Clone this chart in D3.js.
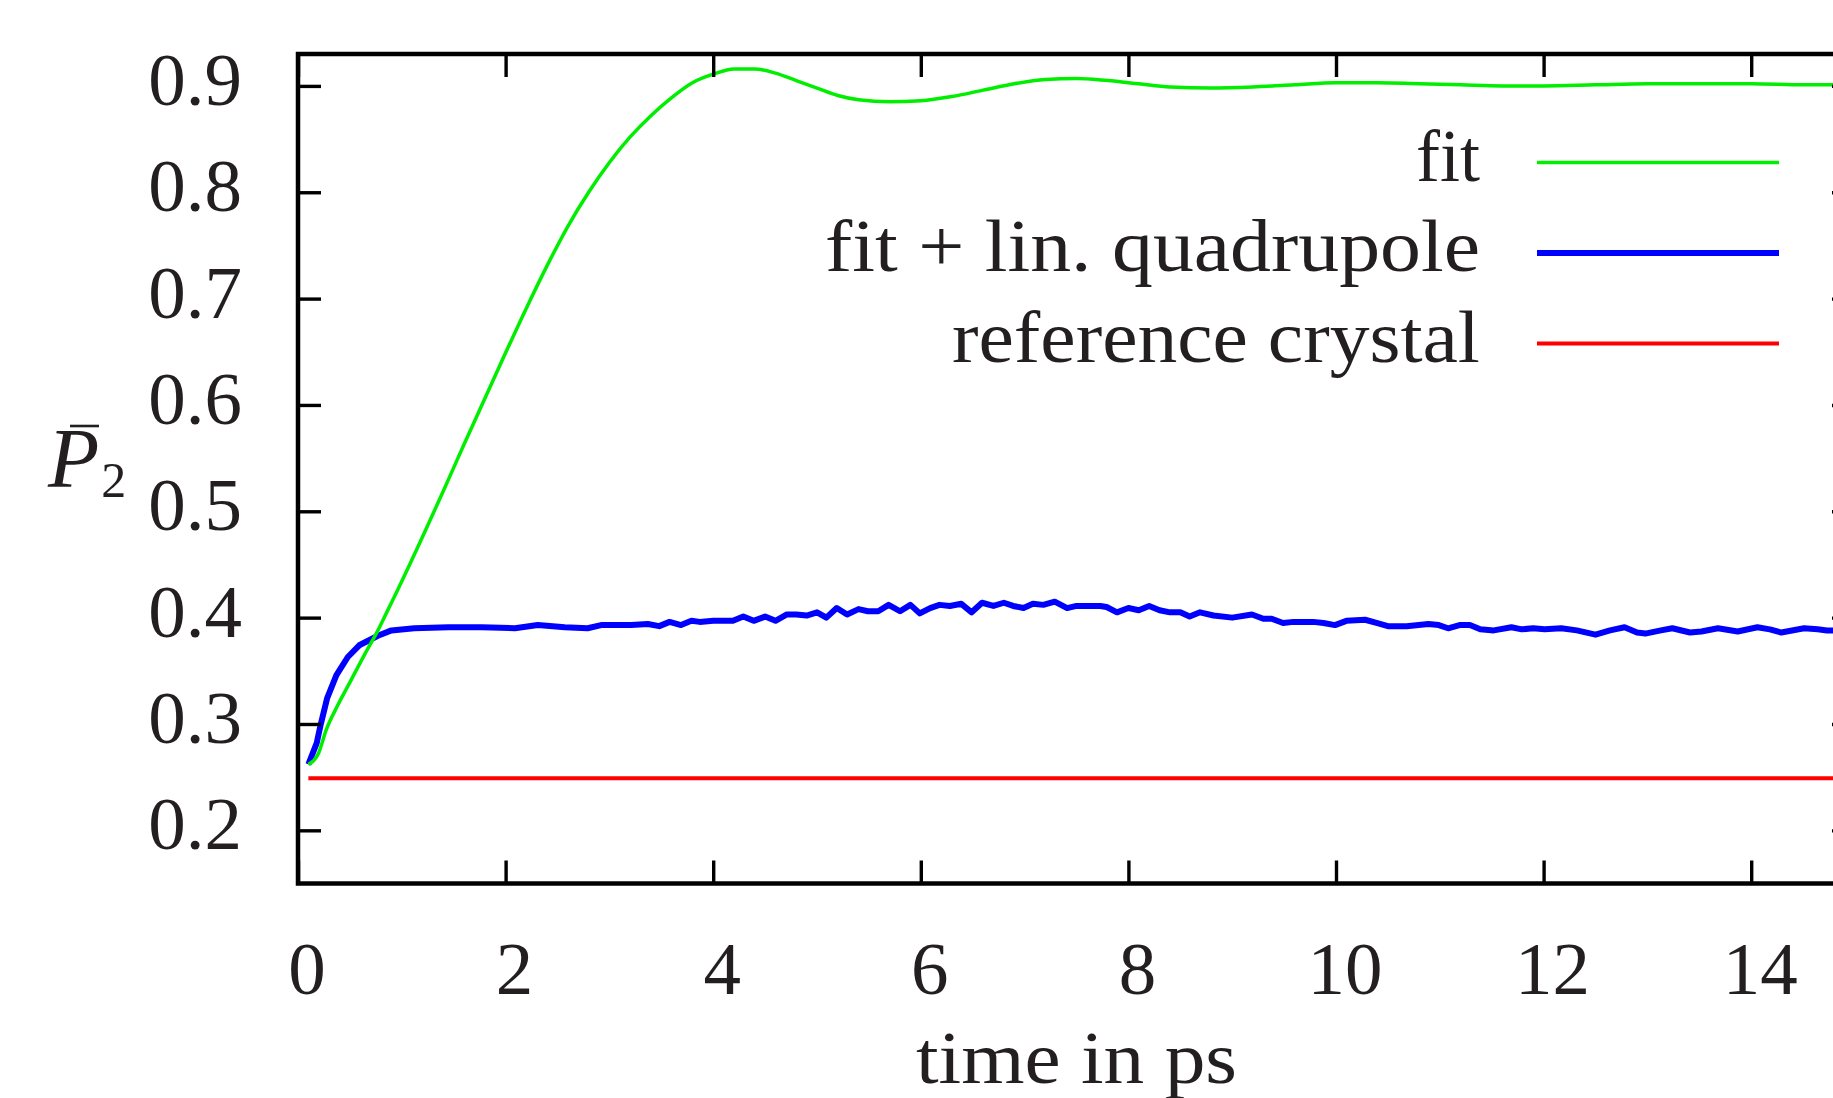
<!DOCTYPE html>
<html>
<head>
<meta charset="utf-8">
<script src="https://cdn.jsdelivr.net/npm/d3@7/dist/d3.min.js"></script>
<style>
  html, body { margin: 0; padding: 0; background: #fff; overflow: hidden; }
  svg { display: block; }
  text { font-family: "Liberation Serif", "DejaVu Serif", serif; fill: #231f20; }
</style>
</head>
<body>
<svg id="chart" width="1833" height="1098"></svg>
<script>
// Orientational order parameter P2 over time
const fitTime = [0.10, 0.20, 0.27, 0.385, 0.51, 0.64, 0.77, 0.87, 0.96, 1.2, 1.4, 1.6, 1.8, 2.0,
  2.2, 2.4, 2.6, 2.8, 3.0, 3.2, 3.4, 3.6, 3.8, 4.0, 4.2, 4.4, 4.6, 4.8, 5.0, 5.2, 5.4, 5.7, 6.0,
  6.3, 6.6, 6.9, 7.2, 7.5, 7.8, 8.1, 8.4, 8.8, 9.2, 9.6, 10.0, 10.4, 10.8, 11.2, 11.6, 12.0, 12.5,
  13.0, 13.5, 14.0, 14.5, 15.0];
const fitP2 = [0.262, 0.273, 0.294, 0.318, 0.341, 0.365, 0.388, 0.408, 0.426, 0.476, 0.519,
  0.563, 0.606, 0.649, 0.691, 0.731, 0.768, 0.800, 0.828, 0.852, 0.872, 0.889, 0.903, 0.911, 0.916,
  0.916, 0.912, 0.905, 0.898, 0.891, 0.887, 0.885, 0.886, 0.890, 0.896, 0.902, 0.906, 0.907, 0.905,
  0.902, 0.899, 0.898, 0.899, 0.901, 0.903, 0.903, 0.902, 0.901, 0.900, 0.900, 0.901, 0.902, 0.902,
  0.902, 0.901, 0.901];

const quadTime = [0.10, 0.18, 0.22, 0.28, 0.37, 0.48, 0.59, 0.77, 0.90, 1.12, 1.45, 1.77, 2.09, 2.31,
  2.57, 2.79, 2.92, 3.21, 3.37, 3.48, 3.58, 3.69, 3.79, 3.87, 4.00, 4.19, 4.29, 4.39, 4.50, 4.60,
  4.71, 4.80, 4.90, 5.00, 5.09, 5.19, 5.29, 5.40, 5.49, 5.59, 5.69, 5.80, 5.90, 5.99, 6.09, 6.18,
  6.28, 6.39, 6.49, 6.59, 6.70, 6.80, 6.89, 6.99, 7.08, 7.18, 7.29, 7.41, 7.50, 7.73, 7.79, 7.89,
  8.00, 8.10, 8.20, 8.30, 8.40, 8.50, 8.59, 8.69, 8.82, 9.00, 9.19, 9.30, 9.38, 9.49, 9.59, 9.78,
  9.88, 9.99, 10.10, 10.28, 10.39, 10.50, 10.68, 10.89, 10.99, 11.08, 11.19, 11.29, 11.39, 11.52,
  11.69, 11.79, 11.90, 12.01, 12.17, 12.32, 12.50, 12.64, 12.78, 12.90, 12.98, 13.13, 13.24, 13.41,
  13.52, 13.68, 13.87, 14.06, 14.18, 14.29, 14.51, 14.64, 14.73, 14.90, 15.00];
const quadP2 = [0.262, 0.282, 0.300, 0.324, 0.346, 0.363, 0.374, 0.383, 0.388, 0.390, 0.391, 0.391,
  0.390, 0.393, 0.391, 0.390, 0.393, 0.393, 0.394, 0.392, 0.396, 0.393, 0.397, 0.396, 0.397, 0.397,
  0.401, 0.397, 0.401, 0.397, 0.403, 0.403, 0.402, 0.405, 0.400, 0.409, 0.403, 0.408, 0.406, 0.406,
  0.412, 0.406, 0.412, 0.404, 0.409, 0.412, 0.411, 0.413, 0.405, 0.414, 0.411, 0.414, 0.411, 0.409,
  0.413, 0.412, 0.415, 0.409, 0.411, 0.411, 0.410, 0.405, 0.409, 0.407, 0.411, 0.407, 0.405, 0.405,
  0.401, 0.405, 0.402, 0.400, 0.403, 0.399, 0.399, 0.395, 0.396, 0.396, 0.395, 0.393, 0.397, 0.398,
  0.395, 0.392, 0.392, 0.394, 0.393, 0.390, 0.393, 0.393, 0.389, 0.388, 0.391, 0.389, 0.390, 0.389,
  0.390, 0.388, 0.384, 0.388, 0.391, 0.386, 0.385, 0.388, 0.390, 0.386, 0.387, 0.390, 0.387, 0.391,
  0.389, 0.386, 0.390, 0.389, 0.388, 0.388, 0.389];

const refTime = [0.10, 15.0];
const refP2 = [0.249, 0.249];

const xTicks = [0, 2, 4, 6, 8, 10, 12, 14];
const yTicks = [0.2, 0.3, 0.4, 0.5, 0.6, 0.7, 0.8, 0.9];
const seriesNames = ["fit", "fit + lin. quadrupole", "reference crystal"];
const seriesColors = ["#00ee00", "#0000ff", "#ff0000"];

const plot = { left: 298, right: 1855, top: 54, bottom: 883.5 };

const x = d3.scaleLinear().domain([0, 15]).range([plot.left, plot.right]);
const y = d3.scaleLinear().domain([0.15, 0.93]).range([plot.bottom, plot.top]);

const svg = d3.select("#chart");

// data lines
const line = d3.line().x(d => x(d[0])).y(d => y(d[1]));
const lines = svg.append("g").attr("fill", "none").attr("stroke-linejoin", "round");

lines.append("path")
  .datum(d3.zip(refTime, refP2))
  .attr("d", line).attr("stroke", seriesColors[2]).attr("stroke-width", 4);

lines.append("path")
  .datum(d3.zip(quadTime, quadP2))
  .attr("d", line).attr("stroke", seriesColors[1]).attr("stroke-width", 6);

lines.append("path")
  .datum(d3.zip(fitTime, fitP2))
  .attr("d", line.curve(d3.curveMonotoneX)).attr("stroke", seriesColors[0]).attr("stroke-width", 3.5);

// mirrored inward ticks on all four sides
const tickLen = 23;
const axes = svg.append("g");
axes.append("g").attr("transform", `translate(0,${plot.bottom})`)
  .call(d3.axisBottom(x).tickValues(xTicks).tickSize(-tickLen).tickFormat(""));
axes.append("g").attr("transform", `translate(0,${plot.top})`)
  .call(d3.axisTop(x).tickValues(xTicks).tickSize(-tickLen).tickFormat(""));
axes.append("g").attr("transform", `translate(${plot.left},0)`)
  .call(d3.axisLeft(y).tickValues(yTicks).tickSize(-tickLen).tickFormat(""));
axes.append("g").attr("transform", `translate(${plot.right},0)`)
  .call(d3.axisRight(y).tickValues(yTicks).tickSize(-tickLen).tickFormat(""));
axes.selectAll(".domain").remove();
axes.selectAll(".tick line").attr("stroke", "#000").attr("stroke-width", 3.4);

// frame
svg.append("rect")
  .attr("x", plot.left).attr("y", plot.top)
  .attr("width", plot.right - plot.left).attr("height", plot.bottom - plot.top)
  .attr("fill", "none").attr("stroke", "#000").attr("stroke-width", 4.5);

// tick labels
svg.append("g").selectAll("text").data(yTicks).join("text")
  .attr("x", 242).attr("y", d => y(d) + 19)
  .attr("text-anchor", "end").attr("font-size", 75)
  .text(d => d.toFixed(1));

svg.append("g").selectAll("text").data(xTicks).join("text")
  .attr("x", d => x(d) + 9).attr("y", 994)
  .attr("text-anchor", "middle").attr("font-size", 75)
  .text(d => d);

// axis titles
svg.append("text")
  .attr("x", (plot.left + plot.right) / 2).attr("y", 1083)
  .attr("text-anchor", "middle").attr("font-size", 75)
  .attr("textLength", 321).attr("lengthAdjust", "spacingAndGlyphs")
  .text("time in ps");

const yTitle = svg.append("text").attr("x", 48).attr("y", 487).attr("font-size", 84);
yTitle.append("tspan").attr("font-style", "italic").text("P");
yTitle.append("tspan").attr("font-size", 50).attr("dx", 2).attr("dy", 10).text("2");
svg.append("line")
  .attr("x1", 70).attr("x2", 99).attr("y1", 426).attr("y2", 426)
  .attr("stroke", "#231f20").attr("stroke-width", 2.6);

// legend
const legendRows = [
  { label: seriesNames[0], color: seriesColors[0], width: 3.5, len: 64 },
  { label: seriesNames[1], color: seriesColors[1], width: 6, len: 655 },
  { label: seriesNames[2], color: seriesColors[2], width: 4, len: 528 }
];
const legend = svg.append("g");
legendRows.forEach((r, i) => {
  const ly = 162.5 + i * 90.5;
  legend.append("text")
    .attr("x", 1480).attr("y", ly + 18)
    .attr("text-anchor", "end").attr("font-size", 75)
    .attr("textLength", r.len).attr("lengthAdjust", "spacingAndGlyphs")
    .text(r.label);
  legend.append("line")
    .attr("x1", 1537).attr("x2", 1779).attr("y1", ly).attr("y2", ly)
    .attr("stroke", r.color).attr("stroke-width", r.width);
});
</script>
</body>
</html>
